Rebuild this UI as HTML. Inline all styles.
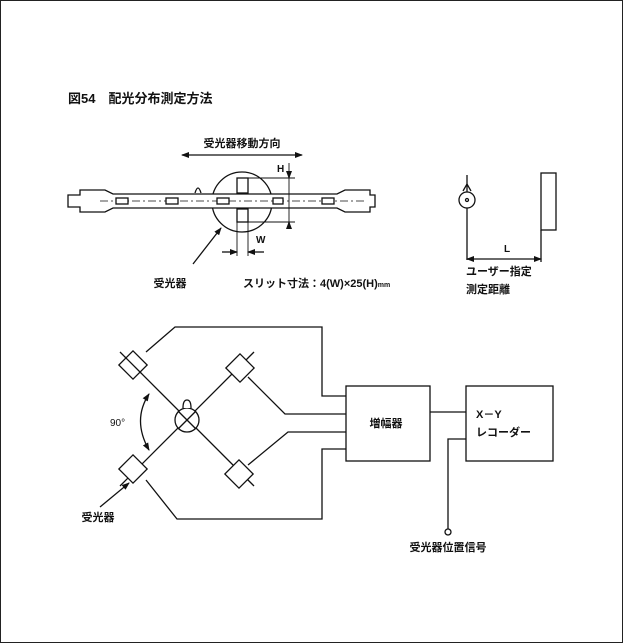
<!DOCTYPE html>
<html><head><meta charset="utf-8"><style>
html,body{margin:0;padding:0;background:#fff}
svg{display:block}
text{font-family:"Liberation Sans","Noto Sans CJK JP",sans-serif;fill:#111}
</style></head><body>
<svg width="623" height="643" viewBox="0 0 623 643" xmlns="http://www.w3.org/2000/svg">
<rect x="0.5" y="0.5" width="622" height="642" fill="#fff" stroke="#222" stroke-width="1"/>
<defs>
<marker id="a" markerWidth="8" markerHeight="6" refX="7" refY="3" orient="auto" markerUnits="userSpaceOnUse"><path d="M0,0 L8,3 L0,6 z" fill="#111"/></marker>
<marker id="b" markerWidth="8" markerHeight="6" refX="1" refY="3" orient="auto" markerUnits="userSpaceOnUse"><path d="M8,0 L0,3 L8,6 z" fill="#111"/></marker>
</defs>
<text x="68" y="103" font-size="13" font-weight="bold">図54　配光分布測定方法</text>
<g stroke="#111" stroke-width="1.3" fill="none">
<!-- top lamp -->
<line x1="182" y1="155" x2="302" y2="155" marker-start="url(#b)" marker-end="url(#a)"/>
<circle cx="242" cy="202" r="30" fill="#fff"/>
<path d="M68,195 h12 v-5 h25 l8,4 h224 l8,-4 h25 v5 h5 v12 h-5 v5 h-25 l-8,-4 h-224 l-8,4 h-25 v-5 h-12 z" fill="#fff"/>
<path d="M195,193 q3,-10 6,0"/>
<rect x="237" y="178" width="11" height="15" fill="#fff"/>
<rect x="237" y="209" width="11" height="13" fill="#fff"/>
<line x1="100" y1="201" x2="365" y2="201" stroke-dasharray="8,3,2,3" stroke-width="0.8"/>
<g fill="#fff"><rect x="116" y="198" width="12" height="6"/><rect x="166" y="198" width="12" height="6"/><rect x="217" y="198" width="12" height="6"/><rect x="273" y="198" width="10" height="6"/><rect x="322" y="198" width="12" height="6"/></g>
<line x1="248" y1="178" x2="295" y2="178" stroke-width="0.9"/>
<line x1="248" y1="222" x2="295" y2="222" stroke-width="0.9"/>
<line x1="289" y1="163" x2="289" y2="222" stroke-width="0.9"/>
<line x1="289" y1="171" x2="289" y2="178" marker-end="url(#a)"/>
<line x1="289" y1="229" x2="289" y2="222" marker-end="url(#a)"/>
<line x1="237" y1="222" x2="237" y2="256" stroke-width="0.9"/>
<line x1="248" y1="222" x2="248" y2="256" stroke-width="0.9"/>
<line x1="222" y1="252" x2="237" y2="252" marker-end="url(#a)"/>
<line x1="264" y1="252" x2="248" y2="252" marker-end="url(#a)"/>
<line x1="193" y1="264" x2="221" y2="228" marker-end="url(#a)"/>
<!-- right small -->
<line x1="467" y1="175" x2="467" y2="260"/>
<circle cx="467" cy="200" r="8" fill="#fff"/>
<circle cx="467" cy="200" r="1.5"/>
<path d="M463,191 l4,-7 l4,7"/>
<rect x="541" y="173" width="15" height="57"/>
<line x1="541" y1="230" x2="541" y2="262"/>
<line x1="467" y1="259" x2="541" y2="259" marker-start="url(#b)" marker-end="url(#a)"/>
<!-- bottom diagram -->
<line x1="120" y1="352" x2="254" y2="486"/>
<line x1="120" y1="486" x2="254" y2="352"/>
<circle cx="187" cy="420" r="12" fill="#fff"/>
<line x1="178" y1="411" x2="196" y2="429"/>
<line x1="178" y1="429" x2="196" y2="411"/>
<path d="M183,408 q0,-8 4,-8 q4,0 4,8" fill="#fff"/>
<g fill="#fff">
<rect x="123" y="355" width="20" height="20" transform="rotate(45 133 365)"/>
<rect x="230" y="358" width="20" height="20" transform="rotate(45 240 368)"/>
<rect x="229" y="464" width="20" height="20" transform="rotate(45 239 474)"/>
<rect x="123" y="459" width="20" height="20" transform="rotate(45 133 469)"/>
</g>
<line x1="125" y1="357" x2="141" y2="373" />
<path d="M146,352 L175,327 H322 V396 H346"/>
<path d="M248,377 L285,414 H346"/>
<path d="M248,465 L288,432 H346"/>
<path d="M146,480 L177,519 H322 V449 H346"/>
<path d="M149,394 Q132,420 149,450" marker-start="url(#b)" marker-end="url(#a)"/>
<line x1="100" y1="507" x2="129" y2="483" marker-end="url(#a)"/>
<rect x="346" y="386" width="84" height="75"/>
<rect x="466" y="386" width="87" height="75"/>
<line x1="430" y1="412" x2="466" y2="412"/>
<path d="M466,439 H448 V529"/>
<circle cx="448" cy="532" r="3" fill="#fff"/>
</g>
<text x="242" y="147" font-size="11" text-anchor="middle" font-weight="bold">受光器移動方向</text>
<text x="277" y="172" font-size="10" font-weight="bold">H</text>
<text x="256" y="243" font-size="10" font-weight="bold">W</text>
<text x="170" y="287" font-size="11" text-anchor="middle" font-weight="bold">受光器</text>
<text x="243" y="287" font-size="11" font-weight="bold">スリット寸法：4(W)×25(H)<tspan font-size="7">mm</tspan></text>
<text x="504" y="252" font-size="10" font-weight="bold">L</text>
<text x="466" y="275" font-size="11" font-weight="bold">ユーザー指定</text>
<text x="466" y="293" font-size="11" font-weight="bold">測定距離</text>
<text x="110" y="426" font-size="10">90°</text>
<text x="98" y="521" font-size="11" text-anchor="middle" font-weight="bold">受光器</text>
<text x="386" y="427" font-size="11" text-anchor="middle" font-weight="bold">増幅器</text>
<text x="476" y="418" font-size="11" font-weight="bold">X－Y</text>
<text x="476" y="436" font-size="11" font-weight="bold">レコーダー</text>
<text x="448" y="551" font-size="11" text-anchor="middle" font-weight="bold">受光器位置信号</text>
</svg>
</body></html>
